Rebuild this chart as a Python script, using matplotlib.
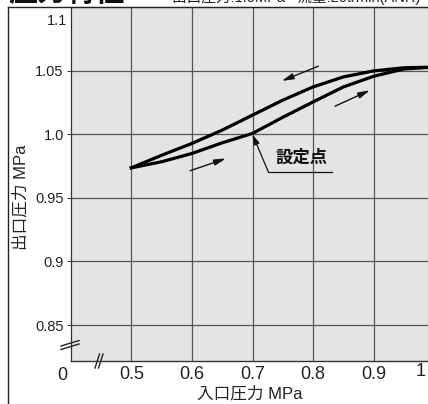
import matplotlib
matplotlib.use("Agg")
import matplotlib.pyplot as plt
from matplotlib.lines import Line2D

plt.rcParams['font.family'] = ['Liberation Sans', 'Noto Sans CJK JP']

# data (inlet pressure -> outlet pressure, MPa)
inlet = [0.5, 0.55, 0.6, 0.65, 0.7, 0.75, 0.8, 0.85, 0.9, 0.95, 1.0]
outlet_rising = [0.9737, 0.9785, 0.985, 0.9934, 1.0008, 1.0135, 1.0256, 1.0374, 1.0458, 1.0515, 1.053]
outlet_falling = [0.9737, 0.9836, 0.9929, 1.0034, 1.0152, 1.027, 1.0374, 1.0453, 1.050, 1.0525, 1.053]

xticks = [0.5, 0.6, 0.7, 0.8, 0.9]
xtick_labels = ['0.5', '0.6', '0.7', '0.8', '0.9']
yticks = [0.85, 0.9, 0.95, 1.0, 1.05]
ytick_labels = ['0.85', '0.9', '0.95', '1.0', '1.05']

# arrows: (tail, head)
arrows = [((0.8086, 1.0537), (0.7482, 1.0421)),
          ((0.5969, 0.9714), (0.6563, 0.9811)),
          ((0.8361, 1.0222), (0.8939, 1.0348))]
set_point = (0.7, 1.0)

W, H = 428, 404
fig = plt.figure(figsize=(W / 100, H / 100), dpi=100)
ax_l, ax_b, ax_t = 70.7, 360.7, 7.4
ax = fig.add_axes([ax_l / W, 1 - ax_b / H, 1 - ax_l / W, (ax_b - ax_t) / H])
ax.set_facecolor('#e4e4e4')

x_lo = 0.4
x_hi = x_lo + (W - ax_l) / 606.0
ax.set_xlim(x_lo, x_hi)
ax.set_ylim(0.8219, 1.1)

ax.set_xticks(xticks)
ax.set_xticklabels(xtick_labels, fontsize=13, color='#222222')
ax.set_yticks(yticks)
ax.set_yticklabels(ytick_labels, fontsize=10.5, color='#222222')
ax.tick_params(axis='x', length=0, pad=4)
ax.tick_params(axis='y', length=3, pad=2, color='#444444')
ax.grid(True, color='#555555', lw=0.9)

ax.spines['right'].set_visible(False)
ax.spines['left'].set_color('#333333')
ax.spines['bottom'].set_color('#333333')
ax.spines['top'].set_color('#222222')
ax.spines['left'].set_linewidth(0.9)
ax.spines['bottom'].set_linewidth(1.0)

# extra labels at the broken ends / clipped ends
ax.text(-8.7 / 357.3, -(375 - ax_b) / 353.3, '0', transform=ax.transAxes,
        ha='center', va='center', fontsize=13, color='#222222')
ax.text((421 - ax_l) / 357.3, -(372 - ax_b) / 353.3, '1', transform=ax.transAxes,
        ha='center', va='center', fontsize=13, color='#222222')
ax.text(-4 / 357.3, 1 - 7 / 353.3, '1.1', transform=ax.transAxes,
        ha='right', va='top', fontsize=10.5, color='#222222')

ax.plot(inlet, outlet_rising, color='black', lw=2.3, solid_joinstyle='round', zorder=3)
ax.plot(inlet, outlet_falling, color='black', lw=2.3, solid_joinstyle='round', zorder=3)

for tail, head in arrows:
    ax.annotate('', xy=head, xytext=tail,
                arrowprops=dict(arrowstyle='-|>,head_length=0.7,head_width=0.18',
                                color='#111111', lw=1.0, shrinkA=0, shrinkB=0))

# set point callout
corner = (0.7261, 0.9706)
ax.annotate('', xy=set_point, xytext=corner,
            arrowprops=dict(arrowstyle='-|>,head_length=0.6,head_width=0.18',
                            color='#111111', lw=0.9, shrinkA=0, shrinkB=0))
ax.plot([corner[0], 0.8307], [corner[1], corner[1]], color='#111111', lw=0.9)
ax.text(0.7809, 0.9816, '設定点', ha='center', va='center', fontsize=12.5,
        fontweight='bold', color='#111111')

ax.set_xlabel('入口圧力 MPa', fontsize=12, color='#222222')
ax.xaxis.set_label_coords(0.502, -0.072)
ax.set_ylabel('出口圧力 MPa', fontsize=12, color='#222222')
ax.yaxis.set_label_coords(-0.117, 0.463)

# axis break marks
def px_line(p0, p1, **kw):
    xs = [(p0[0] - ax_l) / 357.3, (p1[0] - ax_l) / 357.3]
    ys = [(ax_b - p0[1]) / 353.3, (ax_b - p1[1]) / 353.3]
    ax.add_line(Line2D(xs, ys, transform=ax.transAxes, clip_on=False,
                       color='#222222', lw=1.0, **kw))

px_line((95, 368), (99.5, 354))
px_line((98.5, 368), (103, 354))
px_line((61, 346), (79, 340.5))
px_line((61, 349.5), (79, 344))

# outer frame of the figure
fig.add_artist(Line2D([8 / W, 8 / W], [0, 1 - ax_t / H], transform=fig.transFigure,
                      color='#222222', lw=1.0))
fig.add_artist(Line2D([8 / W, 1], [1 - ax_t / H, 1 - ax_t / H], transform=fig.transFigure,
                      color='#222222', lw=1.0))

# title row, clipped by the top edge as in the scan
fig.text(8 / W, 1 - 1 / H, '圧力特性', fontsize=21, fontweight='bold',
         ha='left', va='baseline', color='#111111')
fig.text(172 / W, 1 - 2 / H, '出口圧力:1.0MPa   流量:20ℓ/min(ANR)', fontsize=10.5,
         ha='left', va='baseline', color='#222222')

fig.savefig('out.png', dpi=100)
